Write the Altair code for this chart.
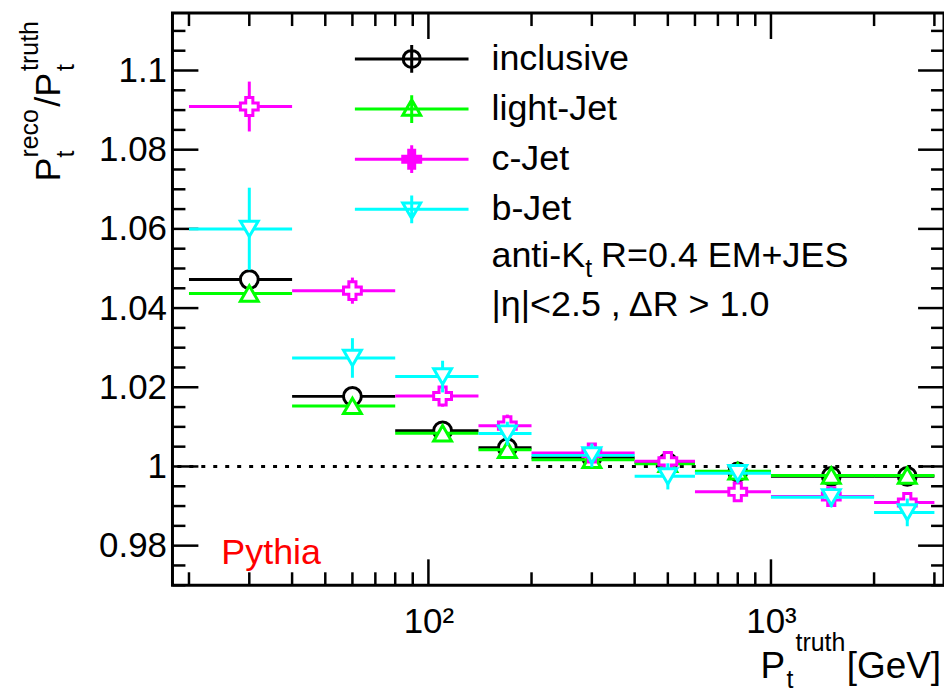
import altair as alt
import pandas as pd
import numpy as np

# ---------------- data ----------------
series = ["inclusive", "light-Jet", "c-Jet", "b-Jet"]
colors = ["#000000", "#00ff00", "#ff00ff", "#00ffff"]
marker_shapes = ["circle", "triangle-up", "cross", "triangle-down"]

bin_lo = [20, 40, 80, 140, 200, 400, 600, 1000, 2000]
bin_hi = [40, 80, 140, 200, 400, 600, 1000, 2000, 3000]
bin_ctr = [30, 60, 110, 170, 300, 500, 800, 1500, 2500]

val_inclusive = [1.0472, 1.0177, 1.0090, 1.0047, 1.0022, 1.0010, 0.9986, 0.9975, 0.9975]
err_inclusive = [0.0015, 0.0008, 0.0006, 0.0005, 0.0004, 0.0004, 0.0004, 0.0004, 0.0005]
val_light = [1.0437, 1.0153, 1.0084, 1.0042, 1.0017, 1.0007, 0.9988, 0.9977, 0.9977]
err_light = [0.0015, 0.0008, 0.0006, 0.0005, 0.0004, 0.0004, 0.0004, 0.0004, 0.0005]
val_c = [1.0909, 1.0444, 1.0178, 1.0103, 1.0034, 1.0013, 0.9936, 0.9924, 0.9909]
err_c = [0.0063, 0.0033, 0.0027, 0.0028, 0.0014, 0.0014, 0.0021, 0.0016, 0.0024]
val_b = [1.0600, 1.0274, 1.0227, 1.0083, 1.0028, 0.9975, 0.9983, 0.9922, 0.9884]
err_b = [0.0104, 0.0050, 0.0040, 0.0030, 0.0030, 0.0033, 0.0023, 0.0025, 0.0035]

values = [val_inclusive, val_light, val_c, val_b]
errors = [err_inclusive, err_light, err_c, err_b]

x_domain = [17.9, 3200]
y_domain = [0.97, 1.1145]
y_major = [0.98, 1.0, 1.02, 1.04, 1.06, 1.08, 1.1]
y_minor = [round(v, 3) for v in np.arange(0.97, 1.1145, 0.005)
           if all(abs(v - m) > 1e-6 for m in y_major)]
x_major = [100, 1000]
x_minor = [20, 30, 40, 50, 60, 70, 80, 90, 200, 300, 400, 500, 600, 700, 800, 900, 2000, 3000]

# ---------------- layout ----------------
W, H = 774, 574
FONT = "Liberation Sans"

xs = alt.Scale(type="log", domain=x_domain, nice=False)
ys = alt.Scale(domain=y_domain, nice=False, zero=False)

X_AX = alt.Axis(values=x_major, labelExpr="datum.value == 100 ? '10²' : '10³'",
                ticks=False, domain=False, grid=False, title=None,
                labelFont=FONT, labelFontSize=35, labelPadding=19, labelColor="black")
Y_AX = alt.Axis(values=y_major, format=".2~f", ticks=False, domain=False, grid=False,
                title=None, labelFont=FONT, labelFontSize=35, labelPadding=6,
                labelColor="black")

layers = []

# axis ticks drawn inside the frame
def ytick(vals, x0, x1):
    return alt.Chart(pd.DataFrame({"v": vals})).mark_rule(color="black", strokeWidth=2.5).encode(
        y=alt.Y("v:Q", scale=ys, axis=Y_AX), x=alt.value(x0), x2=alt.value(x1))

def xtick(vals, y0, y1):
    return alt.Chart(pd.DataFrame({"v": vals})).mark_rule(color="black", strokeWidth=2.5).encode(
        x=alt.X("v:Q", scale=xs, axis=X_AX), y=alt.value(y0), y2=alt.value(y1))

layers += [ytick(y_major, 0, 26), ytick(y_minor, 0, 13),
           ytick(y_major, W - 26, W), ytick(y_minor, W - 13, W),
           xtick(x_major, H - 26, H), xtick(x_minor, H - 13, H),
           xtick(x_major, 0, 26), xtick(x_minor, 0, 13)]

# reference line at 1
ref = pd.DataFrame({"x1": [18.5], "x2": [3000], "y": [1.0]})
layers.append(alt.Chart(ref).mark_rule(color="black", strokeWidth=3, strokeDash=[4, 8]).encode(
    x=alt.X("x1:Q", scale=xs, axis=X_AX), x2="x2:Q", y=alt.Y("y:Q", scale=ys, axis=Y_AX)))

# data series
for s, c, sh, v, e in zip(series, colors, marker_shapes, values, errors):
    df = pd.DataFrame({"lo": bin_lo, "hi": bin_hi, "ctr": bin_ctr, "val": v, "err": e})
    df["ylo"] = df["val"] - df["err"]
    df["yhi"] = df["val"] + df["err"]
    base = alt.Chart(df)
    layers.append(base.mark_rule(color=c, strokeWidth=3).encode(
        x=alt.X("lo:Q", scale=xs, axis=X_AX), x2="hi:Q",
        y=alt.Y("val:Q", scale=ys, axis=Y_AX)))
    layers.append(base.mark_rule(color=c, strokeWidth=3).encode(
        x=alt.X("ctr:Q", scale=xs, axis=X_AX),
        y=alt.Y("ylo:Q", scale=ys, axis=Y_AX), y2="yhi:Q"))
    layers.append(base.mark_point(shape=sh, filled=True, fill="white", stroke=c,
                                  strokeWidth=3, size=320, opacity=1).encode(
        x=alt.X("ctr:Q", scale=xs, axis=X_AX),
        y=alt.Y("val:Q", scale=ys, axis=Y_AX)))

# legend (ROOT style: line + marker + error tick)
line = "M-3.8,0H3.8M0,-0.93V0.93"
legend_paths = [
    line + "M0.57,0A0.57,0.57 0 1,1 -0.57,0A0.57,0.57 0 1,1 0.57,0Z",
    line + "M0,-0.62L0.6,0.42L-0.6,0.42Z",
    line + "M-0.2,-0.6H0.2V-0.2H0.6V0.2H0.2V0.6H-0.2V0.2H-0.6V-0.2H-0.2Z"
           "M-0.07,-0.6V0.6M0.07,-0.6V0.6M-0.6,-0.07H0.6M-0.6,0.07H0.6",
    line + "M0,0.62L0.6,-0.42L-0.6,-0.42Z",
]
LEG = alt.Legend(title=None, orient="none", legendX=222, legendY=28, symbolSize=900,
                 symbolStrokeWidth=3, symbolOpacity=1, labelFont=FONT, labelFontSize=36,
                 labelOffset=62, rowPadding=10.3, labelColor="black", labelLimit=0,
                 padding=0)
leg_df = pd.DataFrame({"series": series})
layers.append(alt.Chart(leg_df).transform_filter("false").mark_point(
    filled=False, strokeWidth=3, size=900).encode(
    x=alt.value(0), y=alt.value(0),
    color=alt.Color("series:N", scale=alt.Scale(domain=series, range=colors), legend=LEG),
    shape=alt.Shape("series:N", scale=alt.Scale(domain=series, range=legend_paths), legend=LEG)))

# text annotations
def txt(t, x, y, size=36, color="black", angle=0, align="left"):
    return alt.Chart(pd.DataFrame({"t": [t]})).mark_text(
        font=FONT, fontSize=size, color=color, angle=angle, align=align,
        baseline="alphabetic").encode(x=alt.value(x), y=alt.value(y), text="t:N")

layers += [
    txt("anti-K", 320, 255), txt("t", 414, 265, size=25),
    txt("R=0.4 EM+JES", 430, 255),
    txt("|η|<2.5 , ΔR > 1.0", 320, 304),
    txt("Pythia", 49, 553, color="#ff0000"),
    # x title
    txt("P", 590, 667, size=37), txt("t", 616, 677, size=25), txt("truth", 625, 640, size=25),
    txt("[GeV]", 771, 667, size=37, align="right"),
    # y title (rotated)
    txt("P", -113, 169, angle=270), txt("t", -99, 145, size=25, angle=270),
    txt("reco", -135, 145, size=25, angle=270),
    txt("/P", -113, 94, angle=270), txt("t", -99, 58, size=25, angle=270),
    txt("truth", -135, 58, size=25, angle=270),
]

chart = alt.layer(*layers).properties(
    width=W, height=H,
    autosize=alt.AutoSizeParams(type="none"),
    padding={"left": 165, "top": 4, "right": 0, "bottom": 110},
    background="white",
).configure_view(stroke="black", strokeWidth=3)

chart.save("out.html", embed_options={"renderer": "svg", "actions": False})
